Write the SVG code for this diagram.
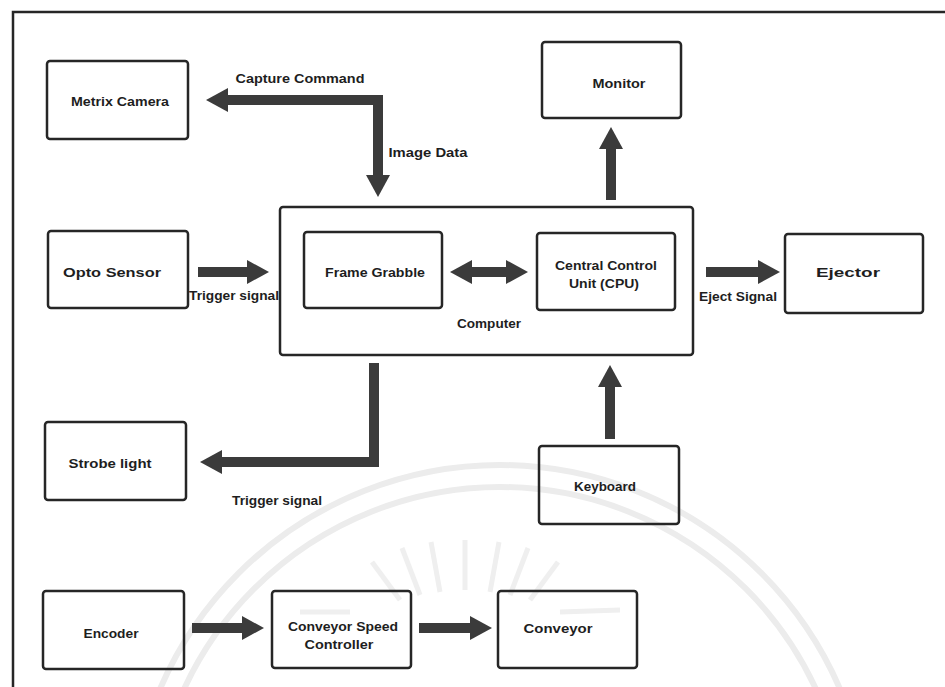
<svg xmlns="http://www.w3.org/2000/svg" width="945" height="687" viewBox="0 0 945 687">
<style>
.box{fill:none;stroke:#262626;stroke-width:2.5}
.lbl{font-family:"Liberation Sans",Arial,sans-serif;font-weight:bold;font-size:13px;fill:#1e1e1e;text-anchor:middle;dominant-baseline:central}
.con{fill:none;stroke:#3b3b3b;stroke-width:10;stroke-linejoin:miter}
.wm{fill:none;stroke:#ececec;stroke-width:6}
.wmr{stroke:#efefef;stroke-width:5}
</style>
<defs>
<marker id="ah" viewBox="0 -12 22 24" refX="1" refY="0" markerWidth="22" markerHeight="24" markerUnits="userSpaceOnUse" orient="auto-start-reverse">
<path d="M0,-12 L22,0 L0,12 z" fill="#3b3b3b"/>
</marker>
</defs>
<rect width="945" height="687" fill="#fff"/>
<g id="watermark">
<circle class="wm" cx="500" cy="835" r="370"/>
<circle class="wm" cx="500" cy="835" r="348"/>
<g class="wmr">
<line x1="400" y1="600" x2="372" y2="562"/>
<line x1="420" y1="595" x2="402" y2="548"/>
<line x1="440" y1="592" x2="431" y2="542"/>
<line x1="465" y1="590" x2="465" y2="540"/>
<line x1="490" y1="592" x2="499" y2="542"/>
<line x1="510" y1="595" x2="528" y2="548"/>
<line x1="530" y1="600" x2="558" y2="562"/>
<line x1="560" y1="612" x2="620" y2="610"/>
<line x1="350" y1="612" x2="300" y2="612"/>
</g>
</g>
<g id="frame">
<path d="M13,687 L13,12 L945,12" fill="none" stroke="#262626" stroke-width="2.5"/>
</g>
<g id="computer">
<rect class="box" x="280" y="207" width="413" height="148" rx="3"/>
<text class="lbl" x="489" y="323" textLength="64" lengthAdjust="spacingAndGlyphs">Computer</text>
</g>
<g id="metrix-camera">
<rect class="box" x="47" y="61" width="141" height="78" rx="3"/>
<text class="lbl" x="120" y="101" textLength="98" lengthAdjust="spacingAndGlyphs">Metrix Camera</text>
</g>
<g id="monitor">
<rect class="box" x="542" y="42" width="139" height="76" rx="3"/>
<text class="lbl" x="619" y="83" textLength="53" lengthAdjust="spacingAndGlyphs">Monitor</text>
</g>
<g id="opto-sensor">
<rect class="box" x="48" y="231" width="140" height="77" rx="3"/>
<text class="lbl" x="112" y="272" textLength="98" lengthAdjust="spacingAndGlyphs">Opto Sensor</text>
</g>
<g id="frame-grabble">
<rect class="box" x="304" y="232" width="138" height="76" rx="3"/>
<text class="lbl" x="375" y="272" textLength="100" lengthAdjust="spacingAndGlyphs">Frame Grabble</text>
</g>
<g id="cpu">
<rect class="box" x="537" y="233" width="138" height="77" rx="3"/>
<text class="lbl" x="606" y="265" textLength="102" lengthAdjust="spacingAndGlyphs">Central Control</text>
<text class="lbl" x="604" y="283" textLength="70" lengthAdjust="spacingAndGlyphs">Unit (CPU)</text>
</g>
<g id="ejector">
<rect class="box" x="785" y="234" width="138" height="79" rx="3"/>
<text class="lbl" x="848" y="272" textLength="64" lengthAdjust="spacingAndGlyphs">Ejector</text>
</g>
<g id="strobe-light">
<rect class="box" x="45" y="422" width="141" height="78" rx="3"/>
<text class="lbl" x="110" y="463" textLength="83" lengthAdjust="spacingAndGlyphs">Strobe light</text>
</g>
<g id="keyboard">
<rect class="box" x="539" y="446" width="140" height="78" rx="3"/>
<text class="lbl" x="605" y="486" textLength="62" lengthAdjust="spacingAndGlyphs">Keyboard</text>
</g>
<g id="encoder">
<rect class="box" x="43" y="591" width="141" height="78" rx="3"/>
<text class="lbl" x="111" y="633" textLength="55" lengthAdjust="spacingAndGlyphs">Encoder</text>
</g>
<g id="conveyor-speed-controller">
<rect class="box" x="272" y="591" width="139" height="77" rx="3"/>
<text class="lbl" x="343" y="626" textLength="110" lengthAdjust="spacingAndGlyphs">Conveyor Speed</text>
<text class="lbl" x="339" y="644" textLength="69" lengthAdjust="spacingAndGlyphs">Controller</text>
</g>
<g id="conveyor">
<rect class="box" x="498" y="591" width="139" height="77" rx="3"/>
<text class="lbl" x="558" y="628" textLength="69" lengthAdjust="spacingAndGlyphs">Conveyor</text>
</g>
<g id="connectors">
<path class="con" d="M227,100 L378,100 L378,176" marker-start="url(#ah)" marker-end="url(#ah)"/>
<path class="con" d="M611,200 L611,148" marker-end="url(#ah)"/>
<path class="con" d="M198,272 L248,272" marker-end="url(#ah)"/>
<path class="con" d="M471,272 L507,272" marker-start="url(#ah)" marker-end="url(#ah)"/>
<path class="con" d="M706,272 L759,272" marker-end="url(#ah)"/>
<path class="con" d="M374,363 L374,462 L221,462" marker-end="url(#ah)"/>
<path class="con" d="M610,439 L610,386" marker-end="url(#ah)"/>
<path class="con" d="M192,628 L243,628" marker-end="url(#ah)"/>
<path class="con" d="M419,628 L471,628" marker-end="url(#ah)"/>
<text class="lbl" x="300" y="78" textLength="129" lengthAdjust="spacingAndGlyphs">Capture Command</text>
<text class="lbl" x="428" y="152" textLength="79" lengthAdjust="spacingAndGlyphs">Image Data</text>
<text class="lbl" x="234" y="295" textLength="90" lengthAdjust="spacingAndGlyphs">Trigger signal</text>
<text class="lbl" x="738" y="296" textLength="78" lengthAdjust="spacingAndGlyphs">Eject Signal</text>
<text class="lbl" x="277" y="500" textLength="90" lengthAdjust="spacingAndGlyphs">Trigger signal</text>
</g>
</svg>
